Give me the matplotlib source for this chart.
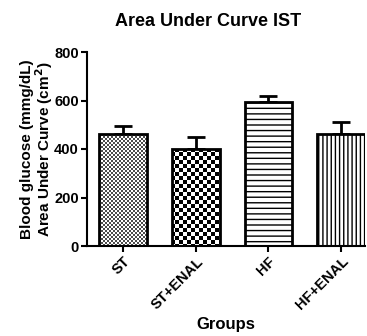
import matplotlib.pyplot as plt
import numpy as np

groups = ['ST', 'ST+ENAL', 'HF', 'HF+ENAL']
auc_mean = [460, 400, 592, 462]
auc_sem = [34, 50, 27, 48]

plt.rcParams['font.family'] = ['Liberation Sans', 'DejaVu Sans']
plt.rcParams['font.weight'] = 'bold'
plt.rcParams['hatch.linewidth'] = 1.0

W, H = 367, 336
fig = plt.figure(figsize=(W / 100, H / 100), dpi=100)
ax = fig.add_axes([87 / W, 1 - 246 / H, (365 - 87) / W, (246 - 52) / H])

x = np.arange(len(groups))
faces = ['none', 'none', 'white', 'white']
bars = ax.bar(x, auc_mean, width=0.66, color=faces, edgecolor='black',
              linewidth=2, zorder=2)
ax.errorbar(x, auc_mean, yerr=[np.zeros(len(auc_sem)), auc_sem], fmt='none',
            ecolor='black', elinewidth=2, capsize=6.5, capthick=2, zorder=1)

# textures: checkerboards for first two bars, line hatches for the others
aw = 365 - 87
ah = 246 - 52
yy, xx = np.mgrid[0:ah, 0:aw]


def checker(cell, dark):
    c = ((yy // cell + xx // cell) % 2).astype(float)
    return np.where(c > 0, 1.0, dark)


for b, cell, dark in zip(bars[:2], [2, 4], [0.3, 0.0]):
    img = ax.imshow(checker(cell, dark), cmap='gray', vmin=0, vmax=1,
                    extent=[0, 1, 0, 1], transform=ax.transAxes,
                    interpolation='nearest', aspect='auto', zorder=1.5)
    img.set_clip_path(b)

bars[2].set_hatch('---')
bars[3].set_hatch('||||')

ax.set_xlim(-0.5, 3.33)
ax.set_ylim(0, 800)
ax.set_yticks([0, 200, 400, 600, 800])
ax.set_xticks(x)
ax.set_xticklabels(groups, rotation=45, ha='right', rotation_mode='anchor',
                   fontsize=10.5, fontweight='bold')
for lab in ax.get_yticklabels():
    lab.set_fontsize(10.5)
    lab.set_fontweight('bold')
ax.spines['top'].set_visible(False)
ax.spines['right'].set_visible(False)
ax.spines['left'].set_linewidth(1.5)
ax.spines['bottom'].set_linewidth(1.5)
ax.tick_params(width=1.5, length=4, pad=2)

ax.set_ylabel('Blood glucose (mmg/dL)\nArea Under Curve (cm$^2$)',
              fontsize=11, fontweight='bold', labelpad=-1, linespacing=1.0)
ax.set_xlabel('Groups', fontsize=12, fontweight='bold', labelpad=3)
fig.text(208 / W, 1 - 21 / H, 'Area Under Curve IST', ha='center',
         va='center', fontsize=13, fontweight='bold')

fig.savefig('out.png', dpi=100)
